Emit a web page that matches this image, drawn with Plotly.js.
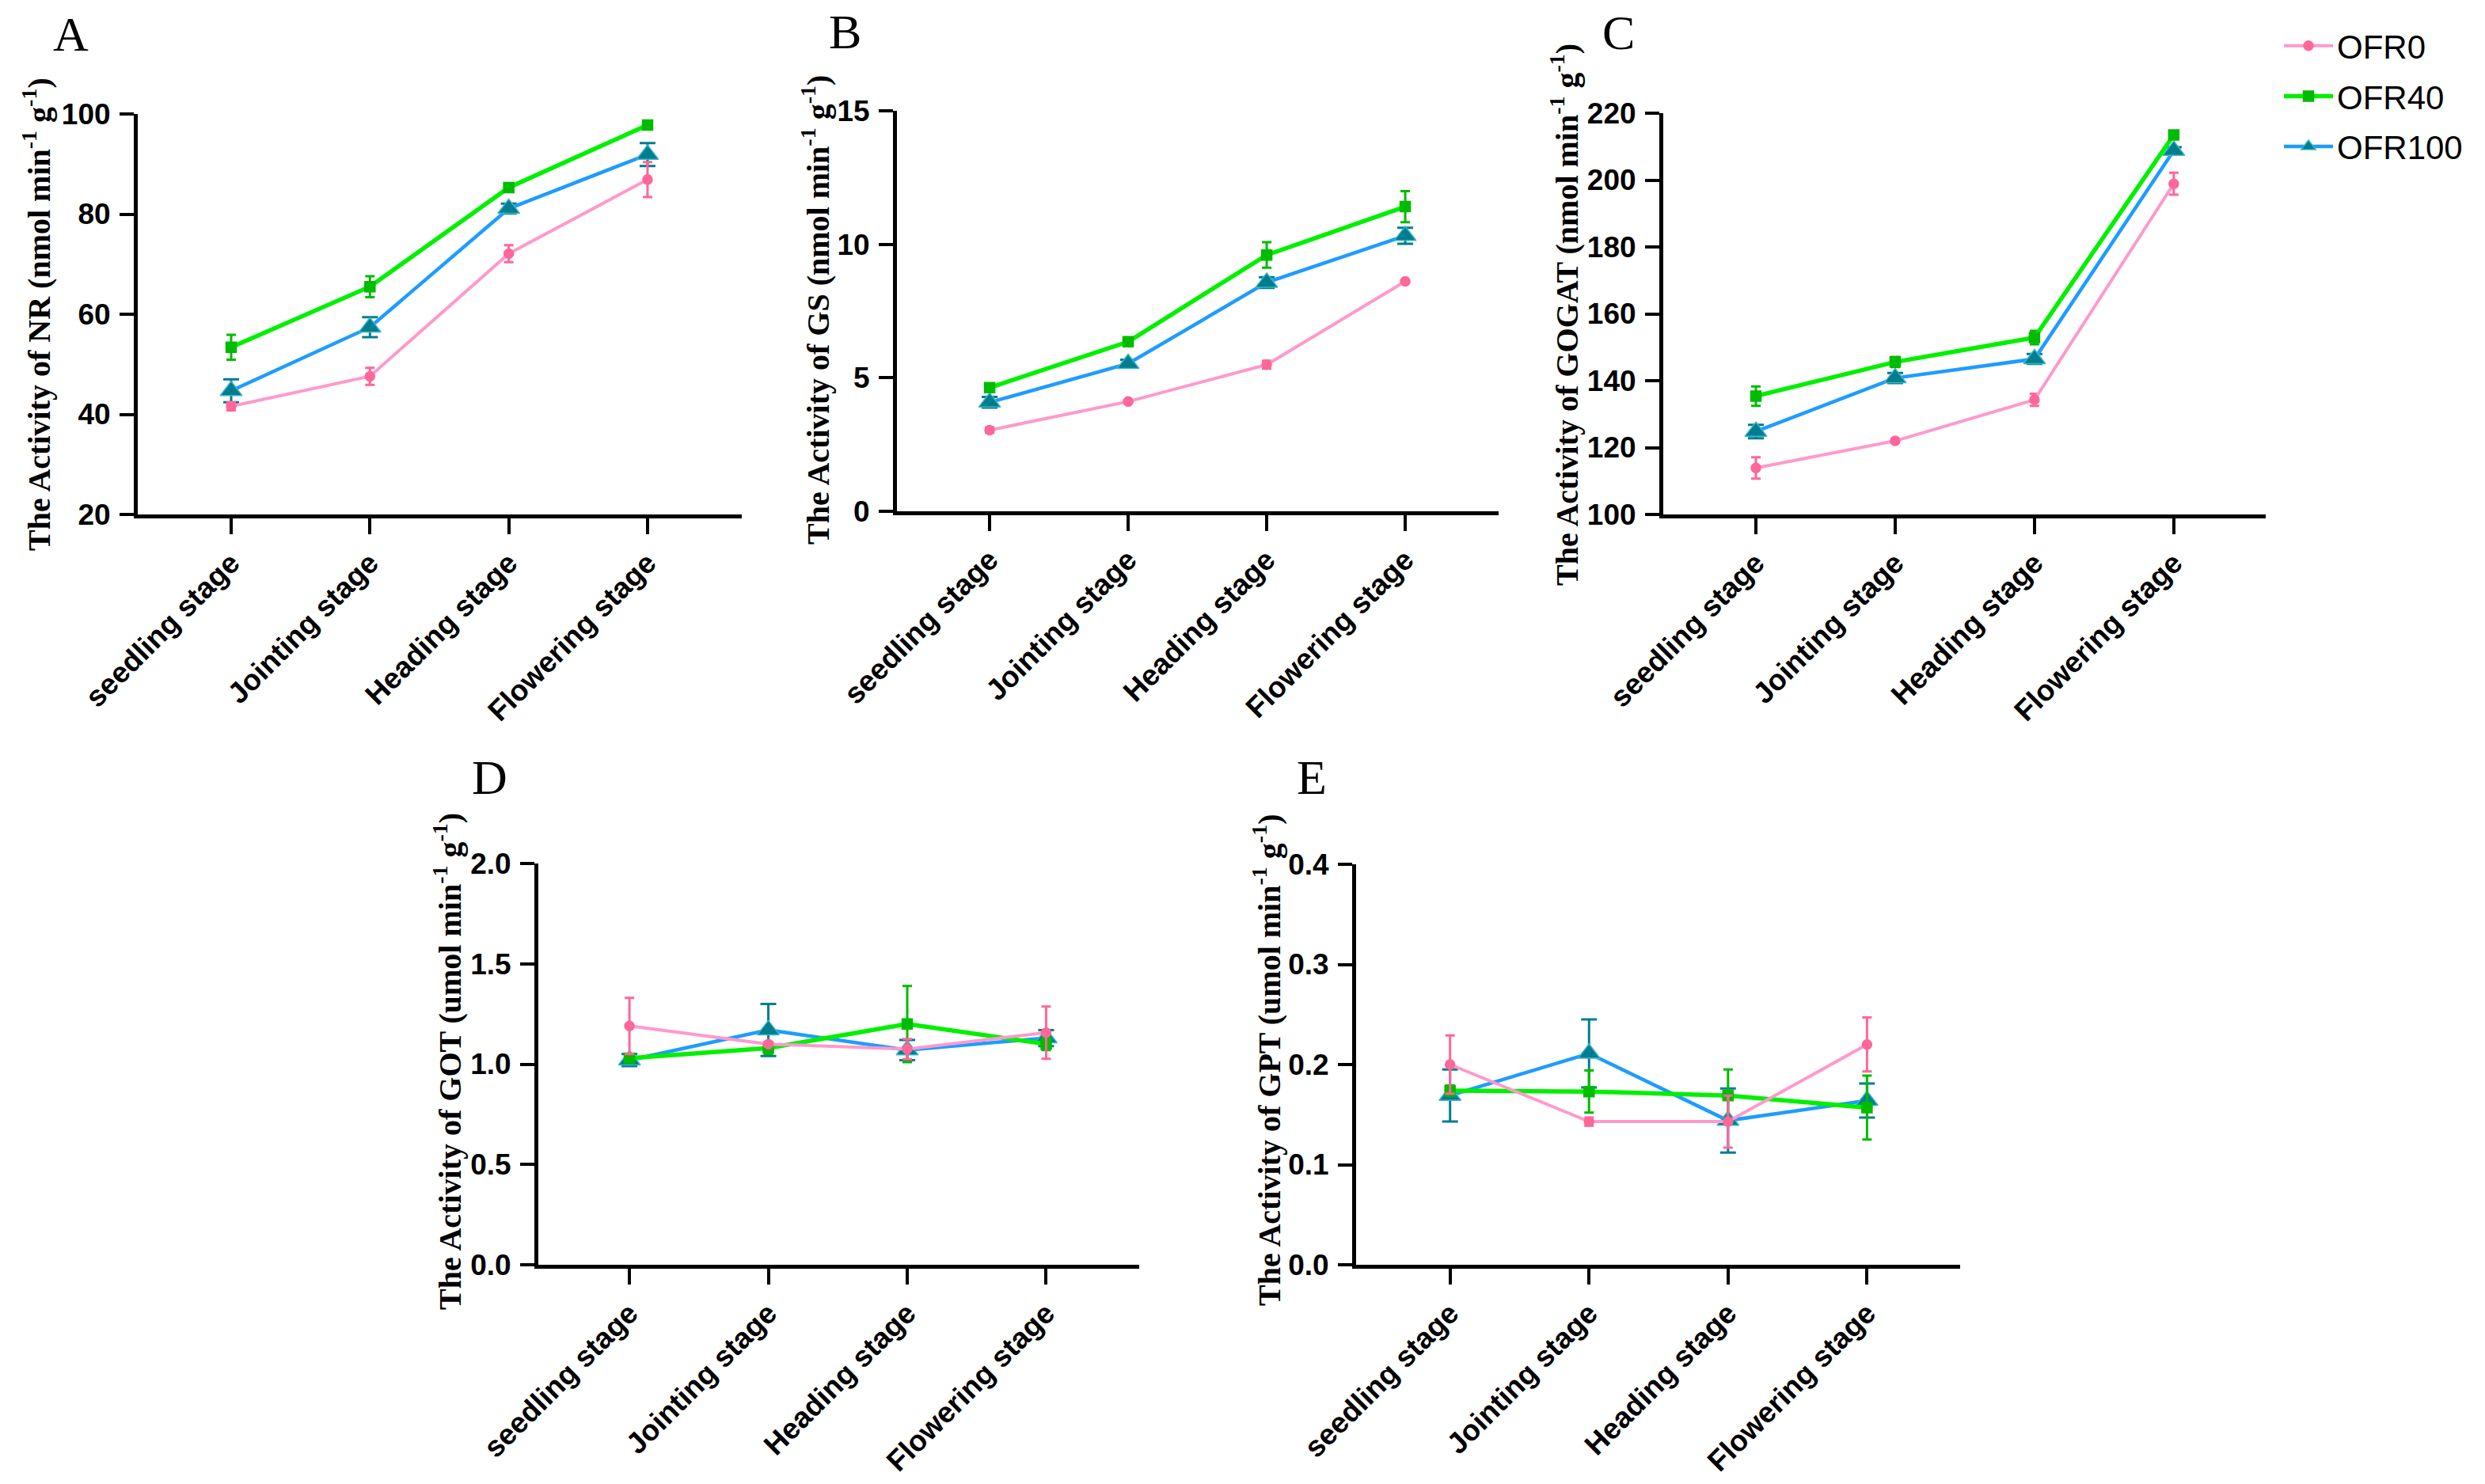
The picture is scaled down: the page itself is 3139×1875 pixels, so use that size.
<!DOCTYPE html>
<html>
<head>
<meta charset="utf-8">
<script src="https://cdn.plot.ly/plotly-3.0.1.min.js"></script>
<style>html,body{margin:0;padding:0;background:#fff;}#chart{width:3139px;height:1875px;}</style>
</head>
<body>
<div id="chart"></div>
<script>
// ---- data ----
const stages = ['seedling stage', 'Jointing stage', 'Heading stage', 'Flowering stage'];
const seriesNames = ['OFR0', 'OFR40', 'OFR100'];

// A: NR
const nrOFR0 = [41.6, 47.6, 72.1, 86.9];
const nrOFR0Err = [0.8, 1.7, 1.7, 3.5];
const nrOFR40 = [53.4, 65.5, 85.3, 97.8];
const nrOFR40Err = [2.5, 2.1, 0.6, 0.5];
const nrOFR100 = [44.7, 57.4, 81.1, 91.9];
const nrOFR100Err = [2.3, 2.0, 1.0, 2.3];

// B: GS
const gsOFR0 = [3.04, 4.11, 5.49, 8.61];
const gsOFR0Err = [0.1, 0.05, 0.15, 0.06];
const gsOFR40 = [4.63, 6.35, 9.6, 11.41];
const gsOFR40Err = [0.15, 0.15, 0.48, 0.58];
const gsOFR100 = [4.08, 5.53, 8.57, 10.32];
const gsOFR100Err = [0.2, 0.15, 0.2, 0.3];

// C: GOGAT
const gogatOFR0 = [113.9, 122.0, 134.3, 198.9];
const gogatOFR0Err = [3.2, 0.5, 1.8, 3.3];
const gogatOFR40 = [135.4, 145.6, 152.9, 213.5];
const gogatOFR40Err = [2.9, 1.5, 2.0, 1.0];
const gogatOFR100 = [124.8, 140.8, 146.5, 208.8];
const gogatOFR100Err = [2.0, 1.5, 1.5, 1.0];

// D: GOT
const gotOFR0 = [1.19, 1.10, 1.075, 1.157];
const gotOFR0Err = [0.14, 0.01, 0.05, 0.13];
const gotOFR40 = [1.03, 1.08, 1.20, 1.10];
const gotOFR40Err = [0.02, 0.03, 0.19, 0.03];
const gotOFR100 = [1.02, 1.17, 1.07, 1.13];
const gotOFR100Err = [0.03, 0.13, 0.05, 0.04];

// E: GPT
const gptOFR0 = [0.200, 0.143, 0.143, 0.220];
const gptOFR0Err = [0.029, 0.004, 0.026, 0.027];
const gptOFR40 = [0.174, 0.173, 0.169, 0.157];
const gptOFR40Err = [0.005, 0.021, 0.026, 0.032];
const gptOFR100 = [0.169, 0.211, 0.144, 0.164];
const gptOFR100Err = [0.026, 0.034, 0.032, 0.017];

const yTitles = [
  'The Activity of NR (nmol min<sup>-1</sup> g<sup>-1</sup>)',
  'The Activity of GS (nmol min<sup>-1</sup> g<sup>-1</sup>)',
  'The Activity of GOGAT (nmol min<sup>-1</sup> g<sup>-1</sup>)',
  'The Activity of GOT (umol min<sup>-1</sup> g<sup>-1</sup>)',
  'The Activity of GPT (umol min<sup>-1</sup> g<sup>-1</sup>)'
];
const panelLetters = ['A', 'B', 'C', 'D', 'E'];
const yTickVals = [
  [20, 40, 60, 80, 100],
  [0, 5, 10, 15],
  [100, 120, 140, 160, 180, 200, 220],
  [0, 0.5, 1.0, 1.5, 2.0],
  [0, 0.1, 0.2, 0.3, 0.4]
];

// ---- styling / layout (pixel geometry of the page) ----
const W = 3139, H = 1875;
const styles = {
  OFR0:   {line: '#FF99CC', width: 4,   marker: '#FF6699', edge: '#FF6699', symbol: 'circle',       size: 12, cap: 6},
  OFR40:  {line: '#00F000', width: 5.5, marker: '#00BB00', edge: '#00BB00', symbol: 'square',       size: 13, cap: 6},
  OFR100: {line: '#1E9CFF', width: 4.5, marker: '#007D8F', edge: '#3BB6C6', symbol: 'triangle-up', size: 24, cap: 10}
};
// panel boxes in px: [left, right, top, bottom], x range, y range, y tick format
const panels = [
  {box: [174, 937, 144, 650],    xr: [-0.673, 3.679], yr: [20, 100], fmt: '',   title: [46, 397],   letter: [65, 43]},
  {box: [1133, 1893, 140, 646],  xr: [-0.669, 3.674], yr: [0, 15],   fmt: '',   title: [1030, 392], letter: [1045, 40]},
  {box: [2101, 2862, 143, 650],  xr: [-0.665, 3.66],  yr: [100, 220],fmt: '',   title: [1977, 398], letter: [2022, 41]},
  {box: [680, 1439, 1091, 1598], xr: [-0.656, 3.67],  yr: [0, 2],    fmt: '.1f',title: [565, 1341], letter: [594, 982]},
  {box: [1713, 2476, 1092, 1598],xr: [-0.676, 3.67],  yr: [0, 0.4],  fmt: '.1f',title: [1600, 1340],letter: [1636, 982]}
];

const panelData = [
  {OFR0: [nrOFR0, nrOFR0Err], OFR40: [nrOFR40, nrOFR40Err], OFR100: [nrOFR100, nrOFR100Err]},
  {OFR0: [gsOFR0, gsOFR0Err], OFR40: [gsOFR40, gsOFR40Err], OFR100: [gsOFR100, gsOFR100Err]},
  {OFR0: [gogatOFR0, gogatOFR0Err], OFR40: [gogatOFR40, gogatOFR40Err], OFR100: [gogatOFR100, gogatOFR100Err]},
  {OFR0: [gotOFR0, gotOFR0Err], OFR40: [gotOFR40, gotOFR40Err], OFR100: [gotOFR100, gotOFR100Err]},
  {OFR0: [gptOFR0, gptOFR0Err], OFR40: [gptOFR40, gptOFR40Err], OFR100: [gptOFR100, gptOFR100Err]}
];

const traces = [];
const drawOrder = ['OFR100', 'OFR40', 'OFR0'];
const legendRank = {OFR0: 1, OFR40: 2, OFR100: 3};
panelData.forEach((pd, i) => {
  const xa = i === 0 ? 'x' : 'x' + (i + 1);
  const ya = i === 0 ? 'y' : 'y' + (i + 1);
  drawOrder.forEach(name => {
    const s = styles[name];
    traces.push({
      type: 'scatter', mode: 'lines+markers',
      x: stages, y: pd[name][0],
      xaxis: xa, yaxis: ya,
      name: name,
      legendgroup: name,
      legendrank: legendRank[name],
      showlegend: i === 2,
      line: {color: s.line, width: s.width},
      marker: {color: s.marker, symbol: s.symbol, size: s.size, line: {color: s.edge, width: 1.5}},
      error_y: {type: 'data', array: pd[name][1], visible: true, color: s.marker, thickness: 3, width: s.cap},
      cliponaxis: false
    });
  });
});

const layout = {
  width: W, height: H,
  margin: {l: 0, r: 0, t: 0, b: 0},
  paper_bgcolor: '#ffffff', plot_bgcolor: 'rgba(0,0,0,0)',
  showlegend: true,
  legend: {
    x: 2880 / W, y: 1 - 24 / H, xanchor: 'left', yanchor: 'top',
    font: {family: 'Liberation Sans, Arial, sans-serif', size: 42, color: '#000'},
    itemwidth: 62, traceorder: 'grouped', tracegroupgap: 6,
    bgcolor: 'rgba(0,0,0,0)', borderwidth: 0
  },
  annotations: []
};

panels.forEach((p, i) => {
  const sfx = i === 0 ? '' : String(i + 1);
  const [l, r, t, b] = p.box;
  layout['xaxis' + sfx] = {
    domain: [l / W, r / W],
    anchor: 'y' + sfx,
    type: 'category',
    range: p.xr,
    showline: true, linecolor: '#000', linewidth: 5,
    ticks: 'outside', ticklen: 20, tickwidth: 4, tickcolor: '#000',
    showgrid: false, zeroline: false,
    tickangle: -45,
    tickfont: {family: 'Liberation Sans, Arial, sans-serif', size: 37, color: '#000', weight: 'bold'},
    fixedrange: true
  };
  layout['yaxis' + sfx] = {
    domain: [1 - b / H, 1 - t / H],
    anchor: 'x' + sfx,
    range: p.yr,
    tickvals: yTickVals[i],
    tickformat: p.fmt,
    showline: true, linecolor: '#000', linewidth: 5,
    ticks: 'outside', ticklen: 18, tickwidth: 4, tickcolor: '#000',
    showgrid: false, zeroline: false,
    ticklabelstandoff: 4,
    tickfont: {family: 'Liberation Sans, Arial, sans-serif', size: 37, color: '#000', weight: 'bold'},
    fixedrange: true
  };
  layout.annotations.push({
    xref: 'paper', yref: 'paper',
    x: p.title[0] / W, y: 1 - p.title[1] / H,
    xanchor: 'center', yanchor: 'middle',
    text: yTitles[i], textangle: -90, showarrow: false,
    font: {family: 'Liberation Serif, Times New Roman, serif', size: 40, color: '#000', weight: 'bold'}
  });
  layout.annotations.push({
    xref: 'paper', yref: 'paper',
    x: p.letter[0] / W, y: 1 - p.letter[1] / H,
    xanchor: 'left', yanchor: 'middle',
    text: panelLetters[i], showarrow: false,
    font: {family: 'Liberation Serif, Times New Roman, serif', size: 62, color: '#000'}
  });
});

Plotly.newPlot('chart', traces, layout, {staticPlot: true, displayModeBar: false});
</script>
</body>
</html>
